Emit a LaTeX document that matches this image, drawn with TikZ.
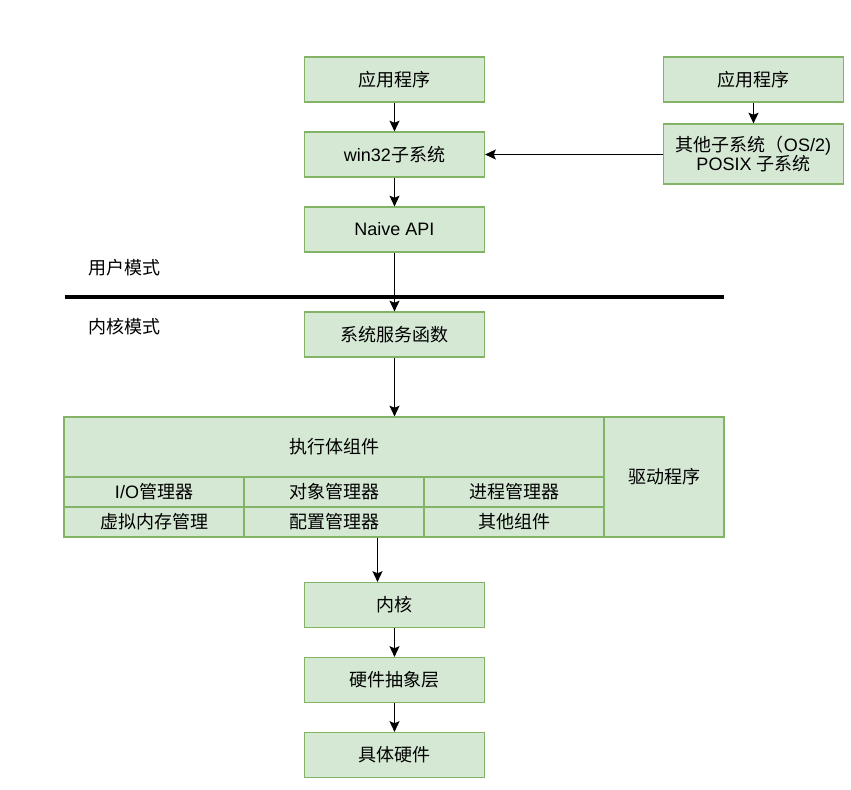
\documentclass[tikz,border=0pt]{standalone}
\usepackage{fontspec}
\setmainfont{Liberation Sans}
\newfontfamily\cjk{Noto Sans CJK SC}
\usetikzlibrary{arrows.meta}
\definecolor{boxfill}{HTML}{D5E8D4}
\definecolor{boxline}{HTML}{82B366}
\tikzset{
  x=0.75pt, y=-0.75pt,
  box/.style={draw=boxline, fill=boxfill, line width=0.9pt, inner sep=0pt,
    font=\fontsize{13.5}{16}\selectfont, align=center},
  lbl/.style={font=\fontsize{13.5}{16}\selectfont, inner sep=0pt, anchor=west},
  conn/.style={draw=black, line width=1pt, -{Stealth[length=8pt,width=7.5pt,inset=1.5pt]}}
}
\begin{document}
\begin{tikzpicture}
\useasboundingbox[fill=white] (0,0) rectangle (851,790);
% top boxes
\node[box, minimum width=135pt, minimum height=33.75pt] (app1) at (394.5,79.5) {\cjk 应用程序};
\node[box, minimum width=135pt, minimum height=33.75pt] (app2) at (753.5,79.5) {\cjk 应用程序};
\node[box, minimum width=135pt, minimum height=33.75pt] (win) at (394.5,154.5) {win32{\cjk 子系统}};
\node[box, minimum width=135pt, minimum height=45pt] (other) at (753.5,154) {{\cjk 其他子系统（}OS/2)\\[-2pt]POSIX {\cjk 子系统}};
\node[box, minimum width=135pt, minimum height=33.75pt] (api) at (394.5,229.5) {Naive API};
% mode line and labels
\node[lbl] (user) at (88,268) {\cjk 用户模式};
\node[lbl] (kern) at (88,327) {\cjk 内核模式};
\coordinate (ml) at (65,297);
\coordinate (mr) at (724,297);
\draw[line width=3pt] (ml) -- (mr);
\node[box, minimum width=135pt, minimum height=33.75pt] (svc) at (394.5,334.5) {\cjk 系统服务函数};
% executive block
\node[box, minimum width=405pt, minimum height=45pt] (exec) at (334,447) {\cjk 执行体组件};
\node[box, minimum width=135pt, minimum height=22.5pt] (io) at (154,492) {I/O{\cjk 管理器}};
\node[box, minimum width=135pt, minimum height=22.5pt] (obj) at (334,492) {\cjk 对象管理器};
\node[box, minimum width=135pt, minimum height=22.5pt] (proc) at (514,492) {\cjk 进程管理器};
\node[box, minimum width=135pt, minimum height=22.5pt] (vm) at (154,522) {\cjk 虚拟内存管理};
\node[box, minimum width=135pt, minimum height=22.5pt] (cfg) at (334,522) {\cjk 配置管理器};
\node[box, minimum width=135pt, minimum height=22.5pt] (oth) at (514,522) {\cjk 其他组件};
\node[box, minimum width=90pt, minimum height=90pt] (drv) at (664,477) {\cjk 驱动程序};
% bottom boxes
\node[box, minimum width=135pt, minimum height=33.75pt] (kernel) at (394.5,605) {\cjk 内核};
\node[box, minimum width=135pt, minimum height=33.75pt] (hal) at (394.5,680) {\cjk 硬件抽象层};
\node[box, minimum width=135pt, minimum height=33.75pt] (hw) at (394.5,755) {\cjk 具体硬件};
% connectors
\draw[conn] (app1) -- (win);
\draw[conn] (win) -- (api);
\draw[conn] (app2) -- (other);
\draw[conn] (other.west |- win.east) -- (win.east);
\draw[conn] (api) -- (svc);
\draw[conn] (svc.south) -- (svc.south |- exec.north);
\draw[conn] (cfg.south -| 377.5,0) -- (kernel.north -| 377.5,0);
\draw[conn] (kernel) -- (hal);
\draw[conn] (hal) -- (hw);
\end{tikzpicture}
\end{document}
